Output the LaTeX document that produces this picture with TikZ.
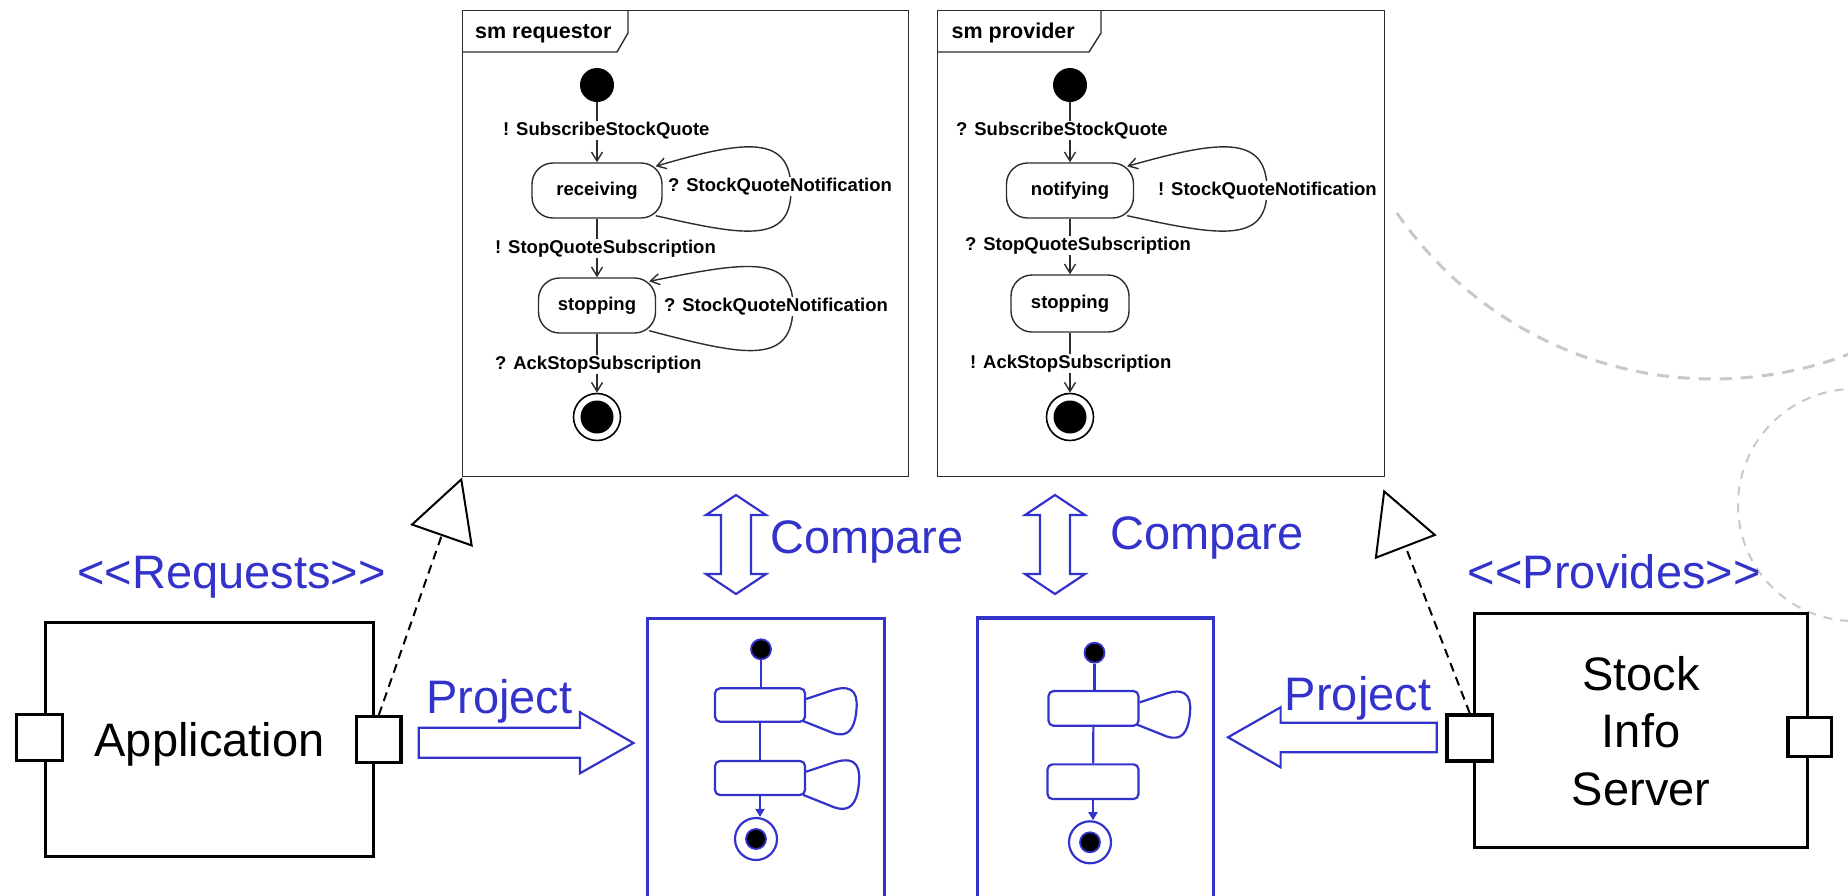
\documentclass[tikz,border=0pt]{standalone}
\usepackage{fontspec}
\setmainfont{Liberation Sans}
\usetikzlibrary{arrows.meta,calc}

\definecolor{umlblue}{RGB}{51,51,204}
\definecolor{smink}{RGB}{45,45,45}
\definecolor{arcgray}{RGB}{200,200,200}

% guillemet-free stereotype brackets (kept as separate boxes so no ligature forms)
\newcommand\stereoL{\mbox{<}\mbox{<}}
\newcommand\stereoR{\mbox{>}\mbox{>}}

\tikzset{
  x=1pt, y=-1pt,
  bigtext/.style={font=\fontsize{47}{57.5}\selectfont},
  smfont/.style={font=\fontsize{18.5}{22}\selectfont\bfseries},
  smframe/.style={draw=smink, line width=1.4pt, inner sep=0pt, anchor=north west},
  smedge/.style={draw=smink, line width=1.4pt},
  smstate/.style={smfont, draw=smink, line width=1.4pt, rounded corners=21pt,
    minimum height=55pt, inner sep=0pt},
  sminit/.style={circle, fill=black, minimum size=34pt, inner sep=0pt},
  smfinal/.style={circle, draw=black, line width=1.6pt, fill=white, minimum size=47pt,
    inner sep=0pt,
    path picture={\fill[black] (path picture bounding box.center) circle[radius=16.5pt];}},
  smflow/.style={smedge, -{Straight Barb[length=9pt,width=11pt,line width=1.4pt]}},
  smlabel/.style={smfont, fill=white, inner sep=1pt, anchor=base west},
  smtitle/.style={font=\fontsize{21.5}{25}\selectfont\bfseries, anchor=base west, inner sep=0pt},
  bluetext/.style={bigtext, text=umlblue, anchor=base, inner sep=0pt},
  comp/.style={bigtext, draw=black, line width=3.2pt, inner sep=0pt, align=center, text depth=0pt},
  port/.style={draw=black, line width=3.2pt, fill=white, inner sep=0pt},
  realize/.style={draw=black, line width=2pt, dash pattern=on 9pt off 6pt,
    -{Triangle[open, length=62pt, width=66pt, line width=2pt]}},
  blockarrow/.style={draw=umlblue, line width=2.2pt, fill=white, line join=miter},
  bbox/.style={draw=umlblue, line width=3.5pt, inner sep=0pt, anchor=north west},
  bstate/.style={draw=umlblue, line width=2.2pt, rounded corners=5pt, minimum width=90pt,
    minimum height=34pt, inner sep=0pt},
  binit/.style={circle, draw=umlblue, line width=1.8pt, fill=black, minimum size=20pt, inner sep=0pt},
  bfinal/.style={circle, draw=umlblue, line width=2.2pt, minimum size=42pt, inner sep=0pt},
  bflow/.style={draw=umlblue, line width=2.2pt},
  tail/.pic={\draw[bflow] (0,-6) -- (27,-15) .. controls (50,-22) and (52,-8) .. (50,8)
      .. controls (48,24) and (42,33) .. (27,28) -- (-3,16);}
}

\begin{document}
\begin{tikzpicture}
\useasboundingbox (0,0) rectangle (1848,895);
\fill[white] (0,0) rectangle (1848,895);
\clip (0,0) rectangle (1848,895);

% light dashed arcs at the right edge
\draw[arcgray, line width=3pt, dash pattern=on 12pt off 9pt]
  (1713,-5) ++(145.4:384) arc[start angle=145.4, end angle=55, radius=384];
\draw[arcgray, line width=2pt, dash pattern=on 9pt off 8pt] (1854,505) circle[radius=116];

% ---------- sm requestor ----------
\node[smframe, minimum width=446pt, minimum height=466pt] (req) at (462,10) {};
\draw[smedge] (462,52) -- (617,52) -- (628,33) -- (628,10);
\node[smtitle] (reqtitle) at (475,38.5) {sm requestor};
\node[sminit] (rinit) at (597,85) {};
\node[smstate, minimum width=130pt] (rrecv) at (597,190.5) {receiving};
\node[smstate, minimum width=117pt] (rstop) at (597,305.5) {stopping};
\node[smfinal] (rfin) at (597,417) {};
\draw[smflow] (rinit) -- (rrecv);
\draw[smflow] (rrecv) -- (rstop);
\draw[smflow] (rstop) -- (rfin);
\draw[smflow] ($(rrecv.south east)+(-7,-3)$) .. controls (745,236) and (791,244) .. (791,190)
  .. controls (791,134) and (745,140) .. ($(rrecv.north east)+(-7,4)$);
\draw[smflow] ($(rstop.south east)+(-7,-3)$) .. controls (745,356) and (793,366) .. (793,306)
  .. controls (793,254) and (745,262) .. ($(rstop.north east)+(-7,4)$);
\node[smlabel] (rl1) at (502,135) {! SubscribeStockQuote};
\node[smlabel] (rl2) at (667,191.7) {? StockQuoteNotification};
\node[smlabel] (rl3) at (494,253.3) {! StopQuoteSubscription};
\node[smlabel] (rl4) at (663,311.7) {? StockQuoteNotification};
\node[smlabel] (rl5) at (494,369.3) {? AckStopSubscription};

% ---------- sm provider ----------
\node[smframe, minimum width=447pt, minimum height=466pt] (prov) at (937,10) {};
\draw[smedge] (937,52) -- (1089,52) -- (1101,33) -- (1101,10);
\node[smtitle] (provtitle) at (951.5,38.5) {sm provider};
\node[sminit] (pinit) at (1070,85) {};
\node[smstate, minimum width=127pt] (pnot) at (1070,190.5) {notifying};
\node[smstate, minimum width=118pt, minimum height=57pt] (pstop) at (1070,303.5) {stopping};
\node[smfinal] (pfin) at (1070,417) {};
\draw[smflow] (pinit) -- (pnot);
\draw[smflow] (pnot) -- (pstop);
\draw[smflow] (pstop) -- (pfin);
\draw[smflow] ($(pnot.south east)+(-7,-3)$) .. controls (1220,236) and (1267,244) .. (1267,190)
  .. controls (1267,134) and (1220,140) .. ($(pnot.north east)+(-7,4)$);
\node[smlabel] (pl1) at (955,135.7) {? SubscribeStockQuote};
\node[smlabel] (pl2) at (1157,195) {! StockQuoteNotification};
\node[smlabel] (pl3) at (964,250) {? StopQuoteSubscription};
\node[smlabel] (pl4) at (969,368.3) {! AckStopSubscription};

% ---------- components ----------
\node[comp, minimum width=328pt, minimum height=234pt] (app) at (209.6,739.2) {Application};
\node[port, minimum width=46pt, minimum height=46pt] (appL) at (39.2,737.2) {};
\node[port, minimum width=44.5pt, minimum height=45.6pt] (appR) at (378.8,739.5) {};
\node[bluetext] (reqst) at (231.5,588.3) {\stereoL Requests\stereoR};

\node[comp, minimum width=332.6pt, minimum height=234.4pt] (srv) at (1641.1,730.5) {Stock\\Info\\Server};
\node[port, minimum width=45.6pt, minimum height=46pt] (srvL) at (1469.8,738) {};
\node[port, minimum width=43.4pt, minimum height=39pt] (srvR) at (1809.7,737.2) {};
\node[bluetext] (provst) at (1614.3,588.3) {\stereoL Provides\stereoR};

% realization links
\draw[realize] (appR.north) -- (req.south west);
\draw[realize] (srvL.north) -- ($(prov.south east)+(-2,12)$);

% ---------- projected behaviours ----------
\node[bbox, minimum width=237pt, minimum height=300pt] (proj1) at (645.7,616.7) {};
\node[binit] (b1i) at (761,649.3) {};
\node[bstate, minimum height=33.4pt] (b1a) at (760,705) {};
\node[bstate] (b1b) at (760,778) {};
\node[bfinal] (b1f) at (756,839) {};
\node[binit] (b1fd) at (756,839) {};
\draw[bflow] (b1i) -- (b1i |- b1a.north);
\draw[bflow] (b1a) -- (b1b);
\draw[bflow, -{Triangle[length=8pt,width=9pt]}] (b1b.south) -- (b1b.south |- b1f.north);
\pic at (b1a.east) {tail};
\pic[scale=1.05] at (b1b.east) {tail};

\node[bbox, minimum width=236pt, minimum height=300pt] (proj2) at (975.9,616) {};
\node[binit] (b2i) at (1094.5,652.7) {};
\node[bstate, minimum height=34.7pt] (b2a) at (1093.5,708.4) {};
\node[bstate, minimum width=91pt, minimum height=34.7pt] (b2b) at (1093,781.7) {};
\node[bfinal] (b2f) at (1090,842.3) {};
\node[binit] (b2fd) at (1090,842.3) {};
\draw[bflow] (b2i) -- (b2i |- b2a.north);
\draw[bflow] (b2a) -- (b2b);
\draw[bflow, -{Triangle[length=8pt,width=9pt]}] (b2b.south) -- (b2b.south |- b2f.north);
\pic at (b2a.east) {tail};

% Project arrows
\draw[blockarrow] (418.8,727.7) -- (580,727.7) -- (580,712.3) -- (633.4,743) -- (580,773.3)
  -- (580,757.7) -- (418.8,757.7) -- cycle;
\node[bluetext] (projL) at (499.2,713.3) {Project};
\draw[blockarrow] (1436.8,722.7) -- (1280.6,722.7) -- (1280.6,707.3) -- (1228,737.3)
  -- (1280.6,767.3) -- (1280.6,752.3) -- (1436.8,752.3) -- cycle;
\node[bluetext] (projR) at (1358,710) {Project};

% Compare arrows
\draw[blockarrow] (736,495) -- (766,515) -- (751,515) -- (751,574) -- (766,574) -- (736,594)
  -- (706,574) -- (721,574) -- (721,515) -- (706,515) -- cycle;
\node[bluetext] (cmp1) at (866.8,553) {Compare};
\draw[blockarrow] (1055,495) -- (1085,515) -- (1070,515) -- (1070,574) -- (1085,574) -- (1055,594)
  -- (1025,574) -- (1040,574) -- (1040,515) -- (1025,515) -- cycle;
\node[bluetext] (cmp2) at (1207,549) {Compare};
\end{tikzpicture}
\end{document}
